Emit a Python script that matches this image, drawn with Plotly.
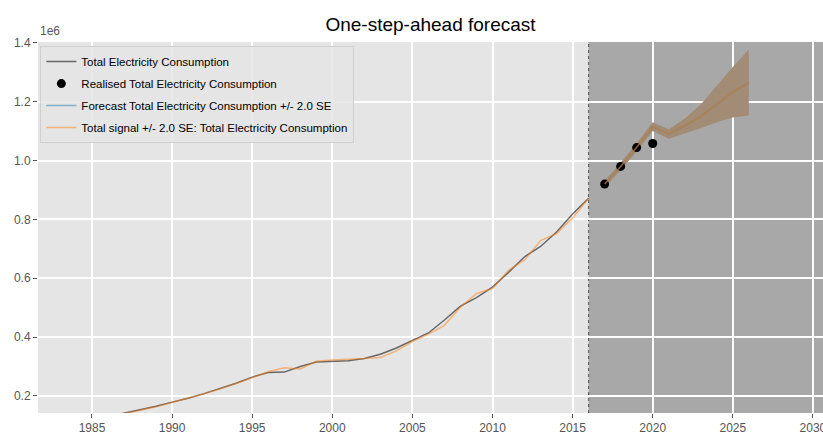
import plotly.graph_objects as go

# ---------------- data ----------------
hist_years = list(range(1985, 2017))
consumption = [118000, 130000, 141000, 152000, 165000, 179000, 192000, 208000, 225000, 243000,
               264000, 280000, 281000, 300000, 315000, 317000, 320000, 327000, 342000, 363000,
               388000, 414000, 458000, 505000, 534000, 570000, 620000, 673000, 708000, 757000,
               818000, 872000]
signal = [116000, 128000, 140000, 150000, 163000, 178000, 192000, 208000, 224000, 242000,
          262000, 282000, 296000, 292000, 318000, 322000, 324000, 327000, 331000, 353000,
          385000, 410000, 440000, 502000, 548000, 565000, 627000, 662000, 728000, 752000,
          805000, 872000]

real_years = [2017, 2018, 2019, 2020]
realised = [920000, 980000, 1044000, 1058000]

fc_years = list(range(2017, 2027))
fc_mean = [920000, 980000, 1045000, 1115000, 1090000, 1118000, 1150000, 1192000, 1232000, 1265000]
fc_halfwidth = [12000, 13000, 14000, 15000, 16000, 25000, 40000, 62000, 86000, 112000]

x_ticks = [1985, 1990, 1995, 2000, 2005, 2010, 2015, 2020, 2025, 2030]
y_ticks = [200000, 400000, 600000, 800000, 1000000, 1200000, 1400000]
y_ticklabels = ["0.2", "0.4", "0.6", "0.8", "1.0", "1.2", "1.4"]
forecast_start = 2016

# ---------------- styling ----------------
FONT = "Liberation Sans Narrow, Liberation Sans, Arial, sans-serif"
BG = "#e5e5e5"
SHADE = "#a8a8a8"
BLACK = "rgba(0,0,0,0.55)"
BLUE = "rgba(31,119,180,0.5)"
ORANGE = "rgba(255,127,14,0.5)"
BAND = "rgb(163,140,118)"

upper = [m + h for m, h in zip(fc_mean, fc_halfwidth)]
lower = [m - h for m, h in zip(fc_mean, fc_halfwidth)]

fig = go.Figure()

# forecast band
fig.add_trace(go.Scatter(x=fc_years + fc_years[::-1], y=upper + lower[::-1],
                         fill="toself", fillcolor=BAND, line=dict(width=0),
                         mode="lines", showlegend=False, hoverinfo="skip"))

# realised points
fig.add_trace(go.Scatter(x=real_years, y=realised, mode="markers",
                         marker=dict(color="black", size=9),
                         name="Realised Total Electricity Consumption",
                         legendrank=2, legendgroup="b"))

# historical consumption
fig.add_trace(go.Scatter(x=hist_years, y=consumption, mode="lines",
                         line=dict(color=BLACK, width=1.5),
                         name="Total Electricity Consumption",
                         legendrank=1, legendgroup="a"))

# forecast mean
fig.add_trace(go.Scatter(x=fc_years, y=fc_mean, mode="lines",
                         line=dict(color=BLUE, width=1.5),
                         name="Forecast Total Electricity Consumption +/- 2.0 SE",
                         legendrank=3, legendgroup="c"))

# total signal
fig.add_trace(go.Scatter(x=hist_years, y=signal, mode="lines",
                         line=dict(color=ORANGE, width=1.5),
                         name="Total signal +/- 2.0 SE: Total Electricity Consumption",
                         legendrank=4, legendgroup="d"))
fig.add_trace(go.Scatter(x=fc_years, y=fc_mean, mode="lines",
                         line=dict(color=ORANGE, width=1.5),
                         showlegend=False, legendgroup="d"))

# forecast period shading and boundary
fig.add_shape(type="rect", xref="x", yref="paper", x0=forecast_start, x1=2035, y0=0, y1=1,
              fillcolor=SHADE, line=dict(width=0), layer="between")
fig.add_shape(type="line", xref="x", yref="paper", x0=forecast_start, x1=forecast_start, y0=0, y1=1,
              line=dict(color="#555555", width=1, dash="dot"), layer="between")

fig.update_layout(
    width=823, height=441,
    margin=dict(l=38, r=0, t=42, b=28, autoexpand=False),
    paper_bgcolor="white",
    plot_bgcolor=BG,
    font=dict(family=FONT, size=12, color="#555555"),
    title=dict(text="One-step-ahead forecast", x=0.5, xref="paper", xanchor="center",
               y=1 - 24 / 441, yref="container", yanchor="middle",
               font=dict(family=FONT, size=19, color="black")),
    showlegend=True,
    legend=dict(x=0.003, y=0.989, xanchor="left", yanchor="top",
                bgcolor="rgba(229,229,229,0.85)", bordercolor="#d0d0d0", borderwidth=1,
                font=dict(family=FONT, size=11.5, color="black"),
                traceorder="grouped", tracegroupgap=3, itemwidth=30),
    xaxis=dict(range=[1981.63, 2030.63], tickvals=x_ticks, showgrid=True, automargin=False,
               gridcolor="white", gridwidth=1.5, zeroline=False, ticklabeloverflow="allow",
               ticks="outside", ticklen=4, tickcolor="#555555", showline=False),
    yaxis=dict(range=[142100, 1402700], tickvals=y_ticks, ticktext=y_ticklabels,
               showgrid=True, gridcolor="white", gridwidth=1.5, zeroline=False, automargin=False,
               ticks="outside", ticklen=4, tickcolor="#555555", showline=False),
)

fig.add_annotation(text="1e6", xref="paper", yref="paper", x=0, y=1, xanchor="left",
                   yanchor="bottom", yshift=2, showarrow=False,
                   font=dict(family=FONT, size=12, color="#555555"))

fig.write_html("out.html", config={"displayModeBar": False},
               post_script="document.body.style.margin='0';document.body.style.overflow='hidden';")
